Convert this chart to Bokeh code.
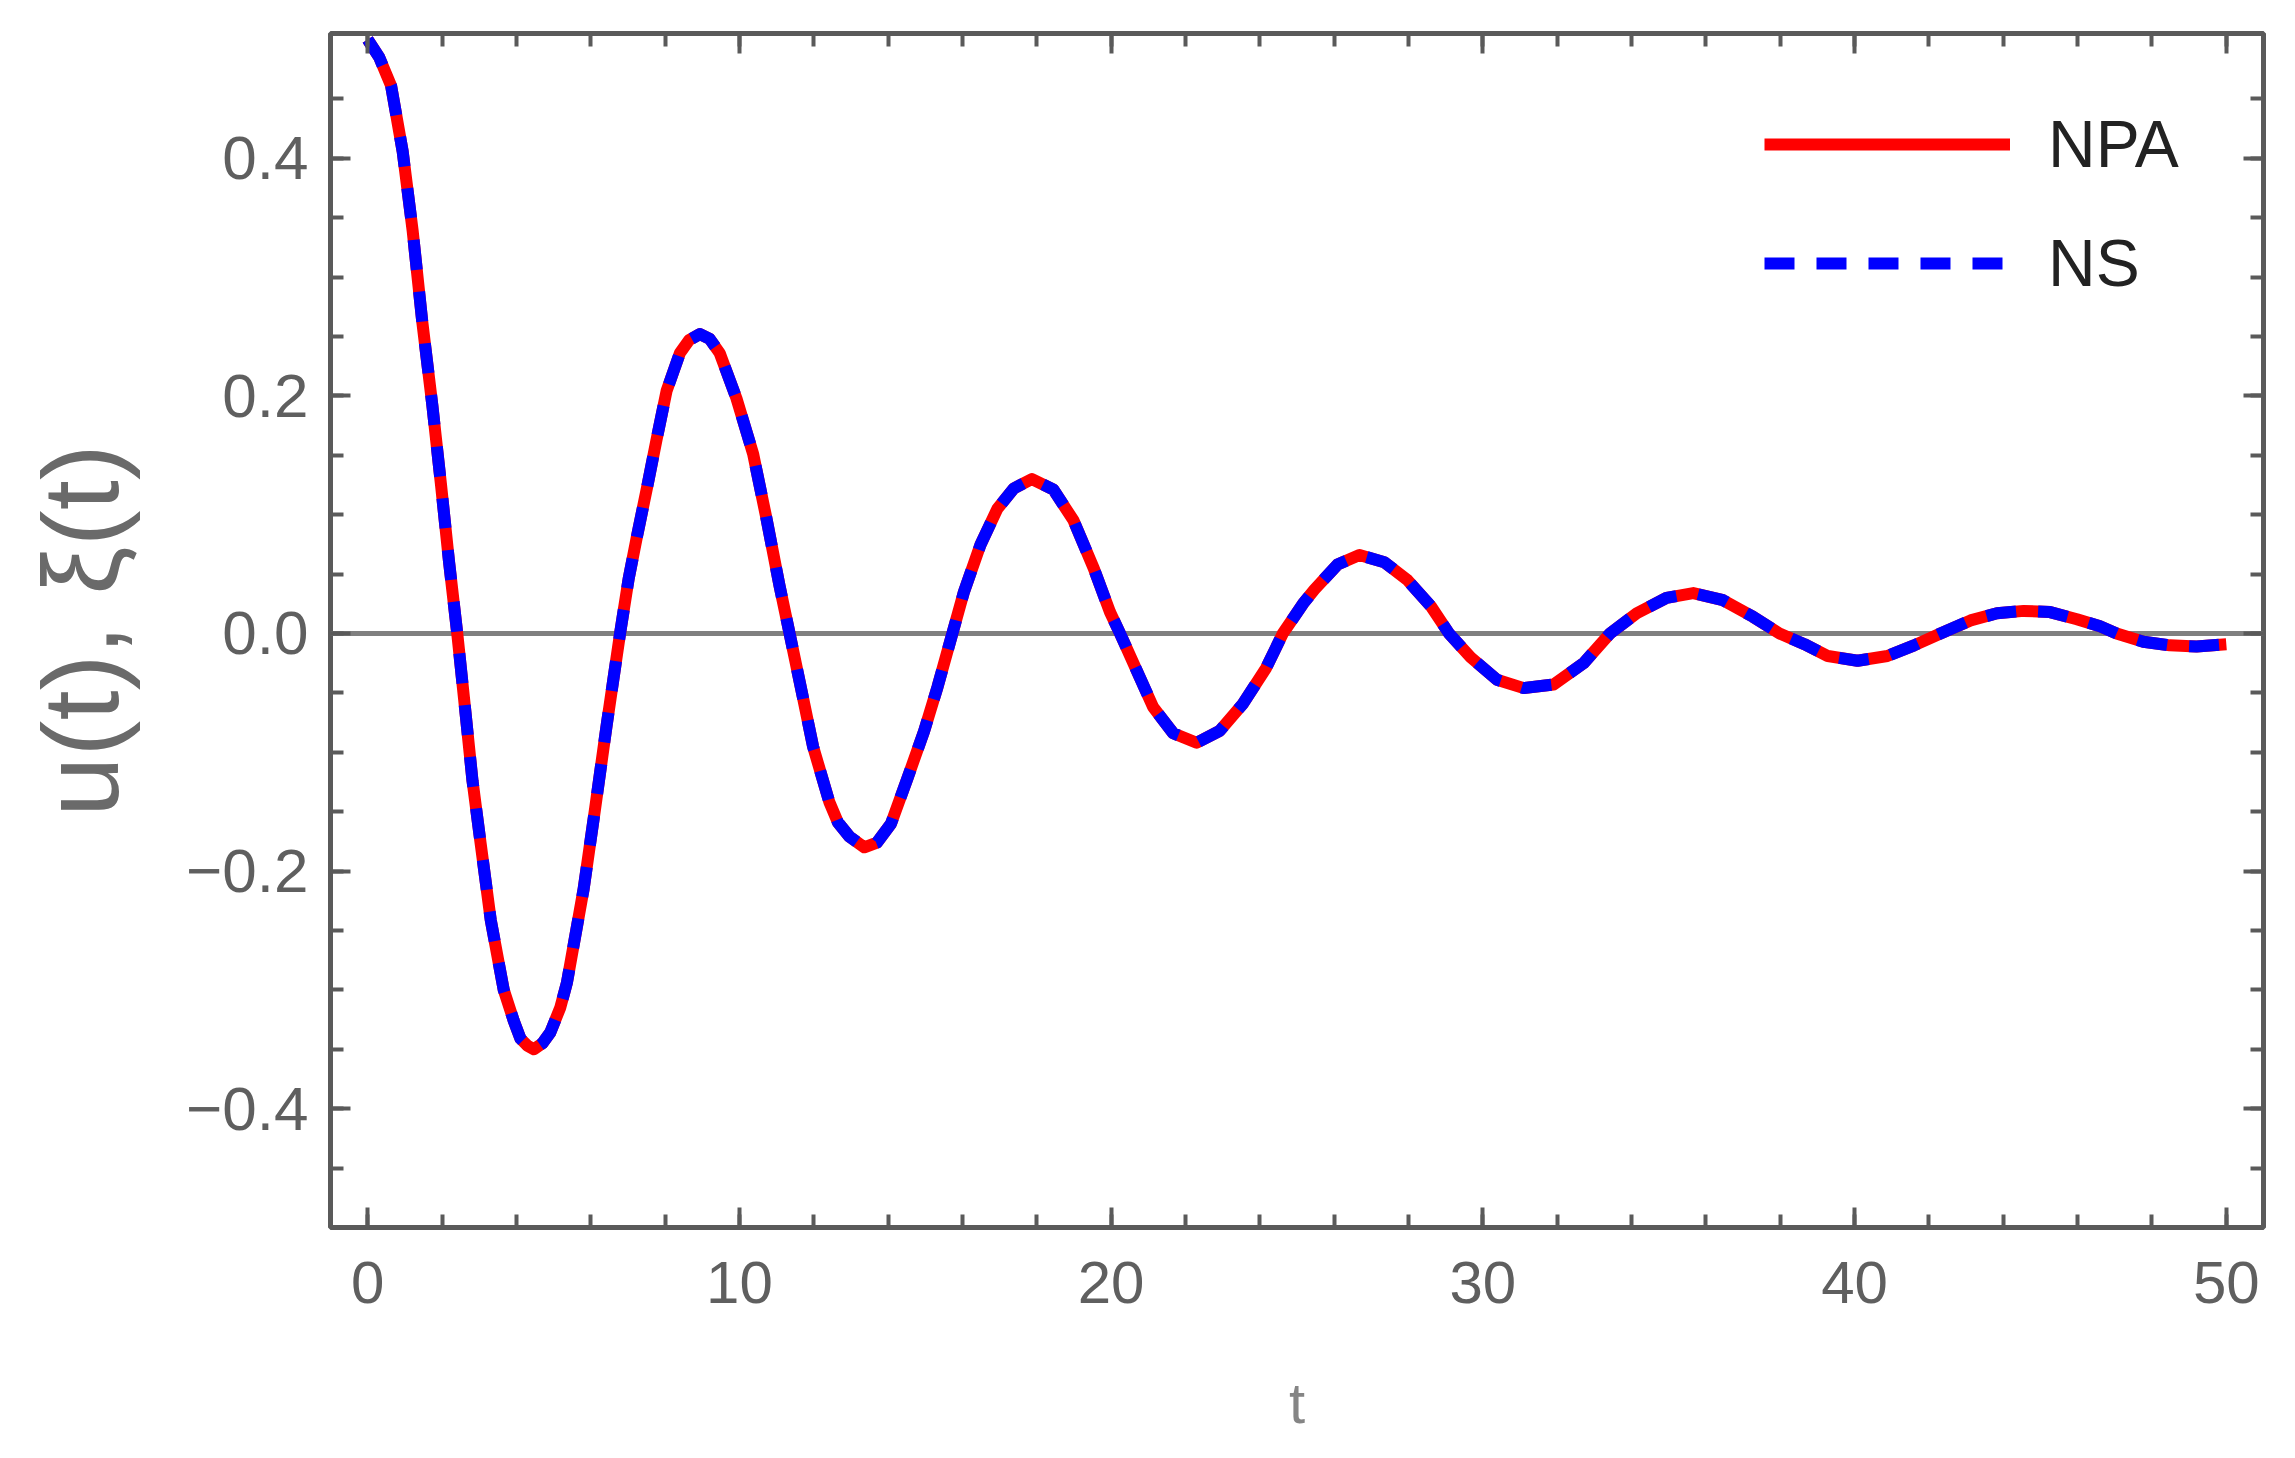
from bokeh.plotting import figure
from bokeh.models import (Range1d, FixedTicker, LinearAxis, Span, Legend, LegendItem,
                          CustomJSTickFormatter)
from bokeh.embed import file_html
from bokeh.resources import INLINE

# ---- data ----
t_vals = [0.00, 0.31, 0.63, 0.94, 1.21, 1.47, 1.74, 1.97, 2.19, 2.41, 2.59, 2.82, 3.04, 3.31,
          3.66, 3.93, 4.11, 4.30, 4.47, 4.70, 4.91, 5.18, 5.36, 5.81, 6.12, 6.43, 6.79, 7.02,
          7.24, 7.51, 7.77, 8.04, 8.40, 8.65, 8.94, 9.20, 9.47, 9.92, 10.37, 10.72, 11.08,
          11.35, 11.71, 11.98, 12.42, 12.65, 12.96, 13.36, 13.70, 14.08, 14.52, 14.97, 15.33,
          15.73, 16.04, 16.49, 16.94, 17.38, 17.87, 18.45, 18.99, 19.53, 19.97, 20.24, 20.60,
          21.13, 21.67, 22.30, 22.92, 23.55, 24.17, 24.62, 25.16, 25.47, 26.09, 26.68, 27.35,
          27.97, 28.60, 29.09, 29.67, 30.38, 31.10, 31.90, 32.71, 33.42, 34.14, 34.94, 35.66,
          36.46, 37.27, 37.98, 38.65, 39.28, 40.08, 40.88, 41.60, 42.31, 43.12, 43.83, 44.55,
          45.26, 45.98, 46.60, 47.05, 47.77, 48.48, 49.20, 50.00]
npa_u = [0.500, 0.485, 0.461, 0.406, 0.339, 0.262, 0.192, 0.126, 0.060, 0.000, -0.054, -0.124,
         -0.177, -0.241, -0.300, -0.326, -0.341, -0.347, -0.350, -0.345, -0.336, -0.315, -0.294,
         -0.215, -0.147, -0.077, 0.000, 0.046, 0.081, 0.122, 0.163, 0.204, 0.236, 0.247, 0.252,
         0.248, 0.236, 0.198, 0.151, 0.098, 0.040, 0.000, -0.054, -0.095, -0.142, -0.159,
         -0.171, -0.180, -0.176, -0.160, -0.122, -0.082, -0.045, 0.000, 0.035, 0.075, 0.105,
         0.122, 0.130, 0.121, 0.095, 0.055, 0.018, 0.000, -0.025, -0.062, -0.084, -0.092,
         -0.082, -0.059, -0.029, 0.000, 0.025, 0.037, 0.058, 0.066, 0.060, 0.045, 0.023, 0.000,
         -0.020, -0.039, -0.046, -0.043, -0.025, 0.000, 0.017, 0.030, 0.034, 0.028, 0.014,
         0.000, -0.009, -0.019, -0.023, -0.019, -0.010, 0.000, 0.011, 0.017, 0.019, 0.018,
         0.012, 0.006, 0.000, -0.007, -0.010, -0.011, -0.009]
# the NS curve lies exactly on the NPA curve in the picture
ns_u = [0.500, 0.485, 0.461, 0.406, 0.339, 0.262, 0.192, 0.126, 0.060, 0.000, -0.054, -0.124,
        -0.177, -0.241, -0.300, -0.326, -0.341, -0.347, -0.350, -0.345, -0.336, -0.315, -0.294,
        -0.215, -0.147, -0.077, 0.000, 0.046, 0.081, 0.122, 0.163, 0.204, 0.236, 0.247, 0.252,
        0.248, 0.236, 0.198, 0.151, 0.098, 0.040, 0.000, -0.054, -0.095, -0.142, -0.159,
        -0.171, -0.180, -0.176, -0.160, -0.122, -0.082, -0.045, 0.000, 0.035, 0.075, 0.105,
        0.122, 0.130, 0.121, 0.095, 0.055, 0.018, 0.000, -0.025, -0.062, -0.084, -0.092,
        -0.082, -0.059, -0.029, 0.000, 0.025, 0.037, 0.058, 0.066, 0.060, 0.045, 0.023, 0.000,
        -0.020, -0.039, -0.046, -0.043, -0.025, 0.000, 0.017, 0.030, 0.034, 0.028, 0.014,
        0.000, -0.009, -0.019, -0.023, -0.019, -0.010, 0.000, 0.011, 0.017, 0.019, 0.018,
        0.012, 0.006, 0.000, -0.007, -0.010, -0.011, -0.009]

series_labels = ["NPA", "NS"]
x_label = "t"
y_label = "u(t), \u03be(t)"
x_major = [0, 10, 20, 30, 40, 50]
x_minor = [0, 2, 4, 6, 8, 10, 12, 14, 16, 18, 20, 22, 24, 26, 28, 30, 32, 34, 36, 38, 40,
           42, 44, 46, 48, 50]
y_major = [-0.4, -0.2, 0.0, 0.2, 0.4]
y_minor = [-0.45, -0.4, -0.35, -0.3, -0.25, -0.2, -0.15, -0.1, -0.05, 0.0, 0.05, 0.1, 0.15,
           0.2, 0.25, 0.3, 0.35, 0.4, 0.45]

FRAME = "#5a5a5a"
TICKTXT = "#5f5f5f"
FONT = "Liberation Sans"

p = figure(width=2279, height=1442, output_backend="svg", toolbar_location=None,
           x_range=Range1d(-1, 51), y_range=Range1d(-0.5, 0.505),
           min_border_left=330, min_border_right=16, min_border_top=33, min_border_bottom=215,
           background_fill_color="white", border_fill_color="white")
p.grid.visible = False
p.outline_line_color = FRAME
p.outline_line_width = 5

y_fmt = CustomJSTickFormatter(code="var v = Math.abs(tick) < 1e-9 ? 0 : tick; return v.toFixed(1).replace('-', '\\u2212');")
x_fmt = CustomJSTickFormatter(code="var v = Math.abs(tick) < 1e-9 ? 0 : tick; return v.toFixed(0).replace('-', '\\u2212');")
blank = CustomJSTickFormatter(code="return '';")


def style(ax):
    ax.axis_line_color = None
    ax.major_tick_in = 20
    ax.major_tick_out = 0
    ax.minor_tick_in = 13
    ax.minor_tick_out = 0
    ax.major_tick_line_color = FRAME
    ax.minor_tick_line_color = FRAME
    ax.major_tick_line_width = 4
    ax.minor_tick_line_width = 4
    ax.major_label_text_font = FONT
    ax.major_label_text_font_size = "60px"
    ax.major_label_text_color = TICKTXT


xa = p.xaxis[0]
ya = p.yaxis[0]
style(xa)
style(ya)
xa.ticker = FixedTicker(ticks=x_major, minor_ticks=x_minor)
ya.ticker = FixedTicker(ticks=y_major, minor_ticks=y_minor)
xa.formatter = x_fmt
ya.formatter = y_fmt
ya.major_label_text_font_size = "62px"
xa.major_label_standoff = 34
ya.major_label_standoff = 22
xa.axis_label = x_label
xa.axis_label_text_font = FONT
xa.axis_label_text_font_style = "normal"
xa.axis_label_text_font_size = "58px"
xa.axis_label_text_color = "#858585"
xa.axis_label_standoff = 64
ya.axis_label = y_label
ya.axis_label_text_font = FONT
ya.axis_label_text_font_style = "normal"
ya.axis_label_text_font_size = "108px"
ya.axis_label_text_color = "#6a6a6a"
ya.axis_label_standoff = 42

top = LinearAxis(ticker=FixedTicker(ticks=x_major, minor_ticks=x_minor), formatter=blank)
right = LinearAxis(ticker=FixedTicker(ticks=y_major, minor_ticks=y_minor), formatter=blank)
for ax in (top, right):
    style(ax)
    ax.major_label_text_font_size = "0px"
    ax.major_label_standoff = 0
p.add_layout(top, "above")
p.add_layout(right, "right")

p.add_layout(Span(location=0, dimension="width", line_color="#808080", line_width=5,
                  level="underlay"))

r1 = p.line(t_vals, npa_u, line_color="#ff0000", line_width=12, line_join="round")
r2 = p.line(t_vals, ns_u, line_color="#0000ff", line_width=12, line_dash="30 22",
            line_join="round")

legend = Legend(items=[LegendItem(label=series_labels[0], renderers=[r1]),
                       LegendItem(label=series_labels[1], renderers=[r2])],
                location=(1434, 926), glyph_width=246, glyph_height=60, label_height=60,
                label_standoff=38, spacing=43, padding=0, margin=0,
                border_line_color=None, background_fill_alpha=0,
                label_text_font=FONT, label_text_font_size="66px",
                label_text_color="#222222")
p.add_layout(legend)

with open("out.html", "w", encoding="utf-8") as f:
    f.write(file_html(p, INLINE))
